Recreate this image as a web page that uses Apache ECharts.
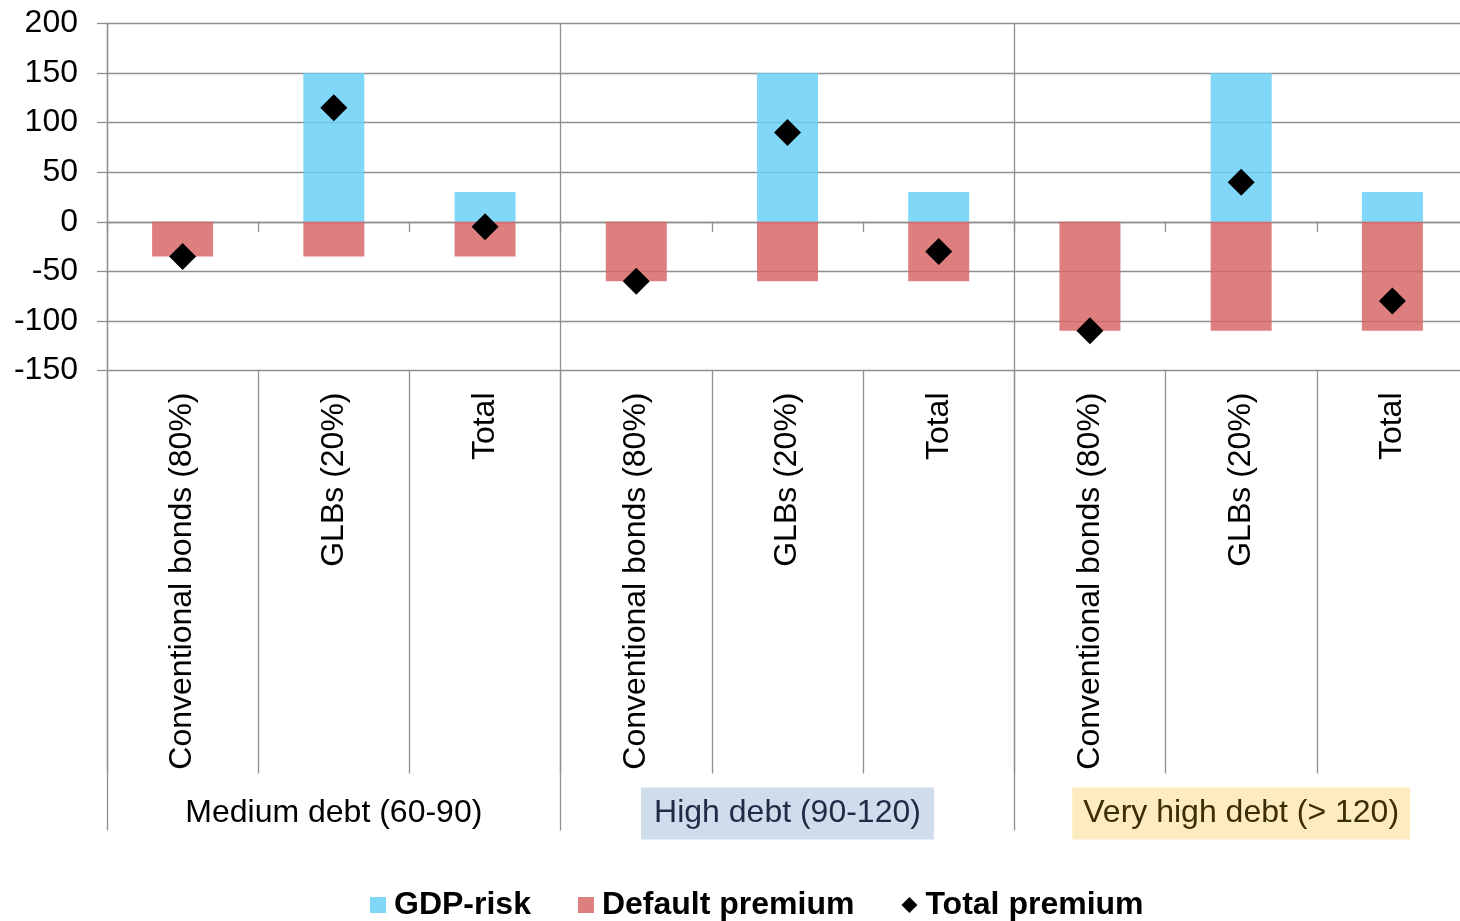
<!DOCTYPE html>
<html>
<head>
<meta charset="utf-8">
<script src="https://cdn.jsdelivr.net/npm/echarts@6/dist/echarts.min.js"></script>
<style>
  html, body { margin: 0; padding: 0; background: #ffffff; overflow: hidden; }
  #chart { width: 1468px; height: 921px; }
</style>
</head>
<body>
<div id="chart"></div>
<script>
// Bond categories within each debt bucket
const categories = [
  'Conventional bonds (80%)', 'GLBs (20%)', 'Total',
  'Conventional bonds (80%)', 'GLBs (20%)', 'Total',
  'Conventional bonds (80%)', 'GLBs (20%)', 'Total'
];
// Debt buckets (debt-to-GDP ratio)
const groups = ['Medium debt (60-90)', 'High debt (90-120)', 'Very high debt (> 120)'];

// Premium components, basis points
const gdpRisk        = [0, 150, 30, 0, 150, 30, 0, 150, 30];
const defaultPremium = [-35, -35, -35, -60, -60, -60, -110, -110, -110];
const totalPremium   = [-35, 115, -5, -60, 90, -30, -110, 40, -80];

// Value axis range
const yMin = -150;
const yMax = 200;
const yStep = 50;

const FONT = '"Liberation Sans", Arial, Helvetica, sans-serif';
const GRID_GRAY = '#8f8f8f';
const LINE_W = 1.3;

const chart = echarts.init(document.getElementById('chart'), null, { renderer: 'canvas' });

const groupRich = {
  g0: { fontSize: 32, fontFamily: FONT, color: '#000000', lineHeight: 32, padding: [10, 13] },
  g1: { fontSize: 32, fontFamily: FONT, color: '#1f2b45', lineHeight: 32, padding: [10, 13], backgroundColor: '#cfdcec' },
  g2: { fontSize: 32, fontFamily: FONT, color: '#3b2d05', lineHeight: 32, padding: [10, 11], backgroundColor: '#fdecc0' }
};

const option = {
  backgroundColor: '#ffffff',
  animation: false,
  textStyle: { fontFamily: FONT },
  grid: [
    // plotting area (its right edge runs slightly past the visible page)
    { left: 107, top: 23.5, width: 1361, height: 347, containLabel: false },
    // category label band below the plot
    { left: 107, top: 370.5, width: 1361, height: 403, containLabel: false }
  ],
  legend: {
    left: 365,
    top: 884,
    itemWidth: 16,
    itemHeight: 16,
    itemGap: 47,
    textStyle: { fontSize: 32, fontWeight: 'bold', color: '#000000', fontFamily: FONT, padding: [0, 0, 0, 3] },
    data: [
      { name: 'GDP-risk', icon: 'rect' },
      { name: 'Default premium', icon: 'rect' },
      { name: 'Total premium', icon: 'diamond' }
    ]
  },
  xAxis: [
    // category axis sitting on zero: small ticks only
    {
      type: 'category', gridIndex: 0, data: categories, position: 'bottom',
      axisLine: { show: true, onZero: true, lineStyle: { color: GRID_GRAY, width: LINE_W } },
      axisTick: { show: true, length: 10, interval: 0, lineStyle: { color: GRID_GRAY, width: LINE_W } },
      axisLabel: { show: false },
      splitLine: { show: false }
    },
    // group separators across the plot
    {
      type: 'category', gridIndex: 0, data: groups, position: 'top',
      axisLine: { show: false }, axisTick: { show: false }, axisLabel: { show: false },
      splitLine: { show: true, interval: 0, lineStyle: { color: GRID_GRAY, width: LINE_W } }
    },
    // rotated category labels with separators
    {
      type: 'category', gridIndex: 1, data: categories, position: 'top',
      axisLine: { show: false }, axisTick: { show: false },
      axisLabel: {
        show: true, inside: true, rotate: 90, interval: 0, margin: 22,
        fontSize: 32, color: '#000000', fontFamily: FONT
      },
      splitLine: { show: true, interval: 0, lineStyle: { color: GRID_GRAY, width: LINE_W } }
    },
    // debt bucket labels
    {
      type: 'category', gridIndex: 1, data: groups, position: 'bottom',
      axisLine: { show: false },
      axisTick: { show: true, length: 57, interval: 0, lineStyle: { color: GRID_GRAY, width: LINE_W } },
      axisLabel: {
        show: true, interval: 0, margin: 24,
        formatter: (v, i) => `{g${i}|${v}}`,
        rich: groupRich
      },
      splitLine: { show: true, interval: 0, lineStyle: { color: GRID_GRAY, width: LINE_W } }
    }
  ],
  yAxis: [
    {
      type: 'value', gridIndex: 0, min: yMin, max: yMax, interval: yStep,
      axisLine: { show: true, lineStyle: { color: GRID_GRAY, width: LINE_W } },
      axisTick: { show: true, length: 10, lineStyle: { color: GRID_GRAY, width: LINE_W } },
      axisLabel: { fontSize: 32, color: '#000000', margin: 29, fontFamily: FONT },
      splitLine: { show: true, lineStyle: { color: GRID_GRAY, width: LINE_W } }
    },
    { type: 'value', gridIndex: 1, min: 0, max: 1, show: false, splitLine: { show: false } }
  ],
  series: [
    {
      name: 'GDP-risk', type: 'bar', xAxisIndex: 0, yAxisIndex: 0,
      data: gdpRisk, barWidth: 61, barGap: '-100%',
      itemStyle: { color: 'rgb(106,208,247)', opacity: 0.85 }
    },
    {
      name: 'Default premium', type: 'bar', xAxisIndex: 0, yAxisIndex: 0,
      data: defaultPremium, barWidth: 61, barGap: '-100%',
      itemStyle: { color: 'rgb(216,104,104)', opacity: 0.85 }
    },
    {
      name: 'Total premium', type: 'scatter', xAxisIndex: 0, yAxisIndex: 0,
      data: totalPremium, symbol: 'diamond', symbolSize: 27, z: 5,
      itemStyle: { color: '#000000', opacity: 1 }
    }
  ]
};

chart.setOption(option);
</script>
</body>
</html>
